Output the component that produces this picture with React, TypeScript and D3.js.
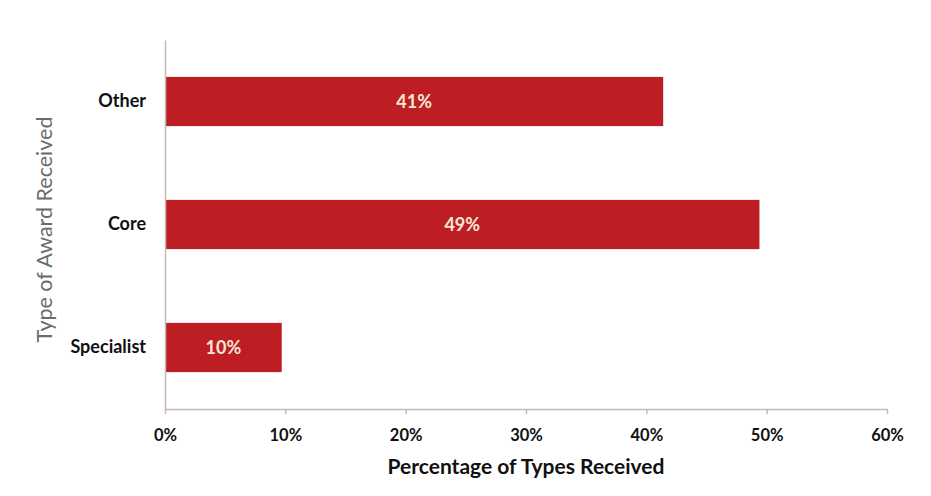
import { useEffect, useMemo, useRef } from 'react';
import * as d3 from 'd3';

const WIDTH = 931;
const HEIGHT = 496;
const MARGIN = { top: 40, right: 44, bottom: 87, left: 165 };

const categories = ['Other', 'Core', 'Specialist'];
const shares = [0.414, 0.494, 0.097];
const xTicks = [0, 0.1, 0.2, 0.3, 0.4, 0.5, 0.6];

const BAR_COLOR = '#bd1e24';
const AXIS_COLOR = '#c8b9b2';
const FONT = 'Lato, "Open Sans", sans-serif';

export default function App() {
    const axesRef = useRef(null);
    const boundsWidth = WIDTH - MARGIN.left - MARGIN.right;
    const boundsHeight = HEIGHT - MARGIN.top - MARGIN.bottom;

    const xScale = useMemo(() => d3.scaleLinear().domain([0, 0.6]).range([0, boundsWidth]), [boundsWidth]);
    const yScale = useMemo(
        () => d3.scaleBand().domain(categories).range([0, boundsHeight]).paddingInner(0.6).paddingOuter(0.3),
        [boundsHeight]
    );

    useEffect(() => {
        const g = d3.select(axesRef.current);
        g.selectAll('*').remove();

        const xAxis = g
            .append('g')
            .attr('transform', `translate(0,${boundsHeight})`)
            .call(d3.axisBottom(xScale).tickValues(xTicks).tickFormat(d3.format('.0%')).tickSize(5).tickSizeOuter(0));
        xAxis.selectAll('path,line').attr('stroke', AXIS_COLOR).attr('stroke-width', 1.5);
        xAxis
            .selectAll('text')
            .attr('dy', '1.45em')
            .attr('font-family', FONT)
            .attr('font-weight', 700)
            .attr('font-size', 16.5)
            .attr('fill', '#111');

        const yAxis = g.append('g').call(d3.axisLeft(yScale).tickSize(0).tickPadding(19));
        yAxis.select('path').attr('stroke', AXIS_COLOR).attr('stroke-width', 1.5);
        yAxis
            .selectAll('text')
            .attr('font-family', FONT)
            .attr('font-weight', 700)
            .attr('font-size', 18)
            .attr('fill', '#111');
    }, [xScale, yScale, boundsHeight]);

    const bars = categories.map((c, i) => {
        const y = yScale(c)!;
        const w = xScale(shares[i]);
        return (
            <g key={c}>
                <rect x={0} y={y} width={w} height={yScale.bandwidth()} fill={BAR_COLOR} />
                <text
                    x={w / 2}
                    y={y + yScale.bandwidth() / 2}
                    dy="0.35em"
                    textAnchor="middle"
                    fontFamily={FONT}
                    fontWeight={700}
                    fontSize={18}
                    fill="#f6e8d6"
                >
                    {d3.format('.0%')(shares[i])}
                </text>
            </g>
        );
    });

    return (
        <svg width={WIDTH} height={HEIGHT} style={{ position: 'absolute', left: 0, top: 0, background: '#fff' }}>
            <g transform={`translate(${MARGIN.left},${MARGIN.top})`}>
                {bars}
                <g ref={axesRef} />
            </g>
            <text
                x={MARGIN.left + boundsWidth / 2}
                y={474}
                textAnchor="middle"
                fontFamily={FONT}
                fontWeight={700}
                fontSize={21}
                fill="#111"
            >
                Percentage of Types Received
            </text>
            <text
                transform={`translate(52,${MARGIN.top + boundsHeight / 2 + 5}) rotate(-90)`}
                textAnchor="middle"
                fontFamily={FONT}
                fontSize={21.5}
                fill="#6b6b6b"
            >
                Type of Award Received
            </text>
        </svg>
    );
}
